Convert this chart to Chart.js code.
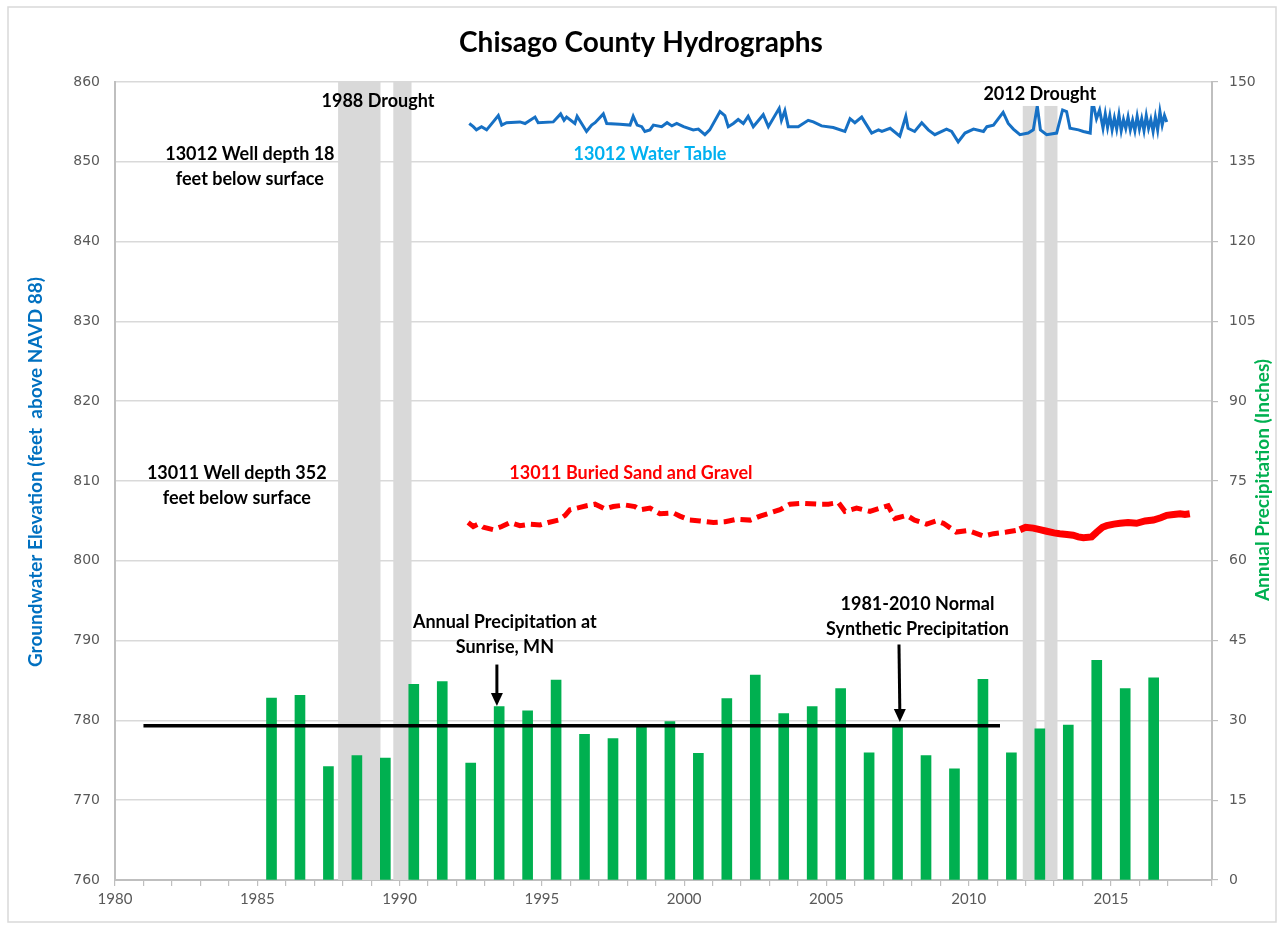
<!DOCTYPE html>
<html>
<head>
<meta charset="utf-8">
<title>Chisago County Hydrographs</title>
<script src="https://cdn.jsdelivr.net/npm/chart.js@4.4.0/dist/chart.umd.min.js"></script>
<style>
  html, body { margin: 0; padding: 0; background: #fff; }
  canvas { display: block; }
</style>
</head>
<body>
<canvas id="hydro" width="1284" height="929"></canvas>
<script>
// annual precipitation at Sunrise, MN (inches), one bar per year
const precipYears = [1985,1986,1987,1988,1989,1990,1991,1992,1993,1994,1995,1996,1997,1998,1999,2000,
  2001,2002,2003,2004,2005,2006,2007,2008,2009,2010,2011,2012,2013,2014,2015,2016];
const precipInches = [34.2,34.7,21.3,23.4,22.9,36.8,37.3,22.0,32.6,31.8,37.6,27.4,26.6,28.9,29.8,23.8,
  34.1,38.5,31.3,32.6,36.0,23.9,28.9,23.4,20.9,37.7,23.9,28.4,29.1,41.3,36.0,38.0];

// 1981-2010 normal synthetic precipitation
const normalYears = [1981.0, 2011.1];
const normalInches = [29.0, 29.0];

// 13012 water table well (feet above NAVD 88)
const wellYears13012 = [1992.45,1992.59,1992.70,1992.88,1993.06,1993.29,1993.47,1993.59,1993.76,1994.23,
  1994.41,1994.76,1994.87,1995.40,1995.66,1995.78,1995.87,1996.16,1996.24,1996.57,1996.75,1996.87,1997.16,
  1997.28,1997.74,1998.10,1998.21,1998.35,1998.51,1998.62,1998.80,1998.92,1999.21,1999.40,1999.57,1999.74,
  1999.98,2000.32,2000.50,2000.73,2000.90,2001.26,2001.43,2001.55,2001.73,2001.90,2002.08,2002.25,2002.43,
  2002.78,2002.96,2003.34,2003.42,2003.54,2003.66,2004.01,2004.36,2004.54,2004.83,2005.24,2005.65,2005.83,
  2006.00,2006.24,2006.59,2006.83,2006.95,2007.24,2007.58,2007.79,2007.87,2008.10,2008.35,2008.58,2008.81,
  2009.22,2009.40,2009.63,2009.87,2010.17,2010.52,2010.64,2010.87,2011.21,2011.39,2011.57,2011.80,2012.09,
  2012.27,2012.41,2012.52,2012.74,2013.09,2013.30,2013.44,2013.56,2013.86,2014.03,2014.27,2014.35,2014.49,
  2014.60,2014.72,2014.80,2014.88,2014.96,2015.04,2015.12,2015.20,2015.28,2015.36,2015.44,2015.52,2015.60,
  2015.68,2015.76,2015.84,2015.92,2016.00,2016.08,2016.16,2016.24,2016.32,2016.40,2016.48,2016.56,2016.64,
  2016.72,2016.80,2016.88,2016.96];
const wellLevels13012 = [854.8,854.4,854.0,854.4,854.0,855.0,855.8,854.6,854.9,855.0,
  854.8,855.6,854.9,855.0,856.0,855.2,855.6,854.8,855.7,853.8,854.6,854.9,856.0,
  854.8,854.7,854.6,855.7,854.6,854.4,853.8,854.0,854.6,854.4,854.9,854.5,854.8,
  854.4,854.0,854.1,853.4,854.0,856.3,855.8,854.4,854.8,855.3,854.8,855.7,854.4,
  855.9,854.4,856.7,855.2,856.4,854.4,854.4,855.2,855.0,854.5,854.3,853.8,855.4,
  854.9,855.6,853.6,854.0,853.8,854.2,853.2,855.7,854.2,853.8,854.9,854.0,853.4,
  854.1,853.8,852.5,853.6,854.1,853.8,854.4,854.6,856.2,854.8,854.1,853.4,853.6,
  854.0,857.0,854.0,853.4,853.6,856.5,856.3,854.2,854.0,853.8,853.6,857.7,855.4,
  856.5,854.2,856.0,854.3,855.8,854.0,855.5,854.1,855.9,853.9,855.3,854.2,855.6,
  854.0,855.2,853.9,855.7,854.1,855.4,853.9,855.8,854.2,855.3,853.8,855.6,854.0,
  856.3,854.6,855.8,855.0];

// 13011 buried sand and gravel well, periodic readings
const wellYears13011 = [1992.41,1992.59,1992.77,1992.94,1993.29,1993.59,1993.88,1994.23,1994.59,1994.94,
  1995.23,1995.58,1995.82,1995.99,1996.34,1996.57,1996.87,1997.22,1997.51,1997.92,1998.27,1998.45,1998.80,
  1999.15,1999.62,1999.85,2000.20,2000.56,2001.03,2001.44,2001.85,2002.32,2002.67,2003.02,2003.37,2003.72,
  2004.19,2004.66,2005.07,2005.42,2005.65,2006.06,2006.53,2007.17,2007.41,2007.82,2008.10,2008.52,2008.87,
  2009.11,2009.56,2009.97,2010.52,2010.87,2011.33,2011.80];
const wellLevels13011 = [804.8,804.3,804.6,804.2,803.9,804.3,804.8,804.4,804.6,804.5,
  804.8,805.1,805.7,806.4,806.7,806.9,807.1,806.5,806.8,807.0,806.8,806.4,806.6,
  805.9,806.0,805.6,805.1,805.0,804.8,804.9,805.2,805.1,805.6,806.0,806.4,807.1,
  807.2,807.1,807.1,807.3,806.2,806.6,806.2,806.9,805.3,805.7,805.1,804.6,805.0,
  804.7,803.6,803.8,803.1,803.4,803.6,803.9];

// 13011 logger record (dense)
const loggerYears13011 = [2011.80,2012.00,2012.27,2012.50,2012.74,2013.00,2013.20,2013.45,2013.67,2013.85,
  2014.03,2014.32,2014.50,2014.70,2014.85,2015.10,2015.32,2015.60,2015.90,2016.20,2016.49,2016.75,2016.96,
  2017.20,2017.43,2017.60,2017.77];
const loggerLevels13011 = [803.9,804.2,804.1,803.9,803.7,803.5,803.4,803.3,803.2,803.0,
  802.9,803.0,803.6,804.2,804.4,804.6,804.7,804.8,804.7,805.0,805.1,805.4,805.7,
  805.8,805.9,805.8,805.9];

// drought periods (start, end in decimal years)
const droughtStarts = [1987.84, 1989.78, 2011.90, 2012.66];
const droughtEnds = [1989.33, 1990.42, 2012.38, 2013.12];

const toPoints = (xs, ys) => xs.map((v, i) => ({ x: v, y: ys[i] }));

// text notes, anchored at (year, elevation)
const notes = [
  { lines: ['1988 Drought'], x: 1989.24, y: 857.6, color: '#000' },
  { lines: ['2012 Drought'], x: 2012.5, y: 858.5, color: '#000', box: true },
  { lines: ['13012 Well depth 18', 'feet below surface'], x: 1984.74, y: 851.0, color: '#000' },
  { lines: ['13012 Water Table'], x: 1998.8, y: 851.0, color: '#00B0F0' },
  { lines: ['13011 Well depth 352', 'feet below surface'], x: 1984.28, y: 811.0, color: '#000' },
  { lines: ['13011 Buried Sand and Gravel'], x: 1998.13, y: 811.0, color: '#FF0000' },
  { lines: ['Annual Precipitation at', 'Sunrise, MN'], x: 1993.7, y: 792.3, color: '#000' },
  { lines: ['1981-2010 Normal', 'Synthetic Precipitation'], x: 2008.2, y: 794.6, color: '#000' }
];
// arrows: [year top, elevation top, year tip, elevation tip]
const arrows = [
  [1993.42, 787.0, 1993.42, 781.8],
  [2007.55, 789.5, 2007.58, 779.8]
];

const noteFont = 'bold 18px Lato';

const decor = {
  id: 'decor',
  beforeDatasetsDraw(chart) {
    const { ctx, chartArea: a, scales: { x } } = chart;
    ctx.save();
    ctx.fillStyle = '#D9D9D9';
    droughtStarts.forEach((s, i) => {
      const x0 = x.getPixelForValue(s), x1 = x.getPixelForValue(droughtEnds[i]);
      ctx.fillRect(x0, a.top, x1 - x0, a.bottom - a.top);
    });
    ctx.restore();
  },
  afterDatasetsDraw(chart) {
    const { ctx, scales: { x, y } } = chart;
    ctx.save();
    ctx.font = noteFont;
    ctx.textAlign = 'center';
    ctx.textBaseline = 'middle';
    notes.forEach(n => {
      const px = x.getPixelForValue(n.x);
      const py = y.getPixelForValue(n.y);
      n.lines.forEach((t, i) => {
        const ly = py + i * 25;
        if (n.box) {
          const w = ctx.measureText(t).width;
          ctx.fillStyle = '#fff';
          ctx.fillRect(px - w / 2 - 3, ly - 12, w + 6, 24);
        }
        ctx.fillStyle = n.color;
        ctx.fillText(t, px, ly);
      });
    });
    ctx.strokeStyle = '#000';
    ctx.fillStyle = '#000';
    ctx.lineWidth = 3;
    arrows.forEach(([x0, y0, x1, y1]) => {
      const ax = x.getPixelForValue(x0), ay = y.getPixelForValue(y0);
      const bx = x.getPixelForValue(x1), by = y.getPixelForValue(y1);
      ctx.beginPath();
      ctx.moveTo(ax, ay);
      ctx.lineTo(bx, by - 10);
      ctx.stroke();
      ctx.beginPath();
      ctx.moveTo(bx, by);
      ctx.lineTo(bx - 6, by - 13);
      ctx.lineTo(bx + 6, by - 13);
      ctx.closePath();
      ctx.fill();
    });
    ctx.restore();
  },
  afterDraw(chart) {
    const { ctx, width, height } = chart;
    ctx.save();
    // chart frame
    ctx.strokeStyle = '#D9D9D9';
    ctx.lineWidth = 1.5;
    ctx.strokeRect(8, 7, width - 16, height - 14);
    // title
    ctx.fillStyle = '#000';
    ctx.font = 'bold 28px Lato';
    ctx.textAlign = 'center';
    ctx.textBaseline = 'middle';
    ctx.fillText('Chisago County Hydrographs', 641, 43);
    // axis titles
    ctx.font = 'bold 19px Lato';
    ctx.translate(36, 472);
    ctx.rotate(-Math.PI / 2);
    ctx.fillStyle = '#0070C0';
    ctx.fillText('Groundwater Elevation (feet  above NAVD 88)', 0, 0);
    ctx.setTransform(1, 0, 0, 1, 0, 0);
    ctx.translate(1263, 480);
    ctx.rotate(-Math.PI / 2);
    ctx.fillStyle = '#00B050';
    ctx.fillText('Annual Precipitation (Inches)', 0, 0);
    ctx.restore();
  }
};

new Chart(document.getElementById('hydro'), {
  type: 'line',
  data: {
    datasets: [
      {
        label: '1981-2010 Normal Synthetic Precipitation',
        data: toPoints(normalYears, normalInches),
        yAxisID: 'y2',
        borderColor: '#000',
        borderWidth: 3.5,
        pointRadius: 0
      },
      {
        label: '13012 Water Table',
        data: toPoints(wellYears13012, wellLevels13012),
        yAxisID: 'y',
        borderColor: '#1670C4',
        borderWidth: 3,
        pointRadius: 0,
        tension: 0
      },
      {
        label: '13011 Buried Sand and Gravel',
        data: toPoints(wellYears13011, wellLevels13011),
        yAxisID: 'y',
        borderColor: '#FF0000',
        borderWidth: 5,
        borderDash: [11, 6],
        pointRadius: 0,
        tension: 0
      },
      {
        label: '13011 logger',
        data: toPoints(loggerYears13011, loggerLevels13011),
        yAxisID: 'y',
        borderColor: '#FF0000',
        borderWidth: 7,
        pointRadius: 0,
        tension: 0
      },
      {
        type: 'bar',
        label: 'Annual Precipitation at Sunrise, MN',
        data: toPoints(precipYears.map(v => v + 0.5), precipInches),
        yAxisID: 'y2',
        backgroundColor: '#00B050',
        barThickness: 10
      }
    ]
  },
  options: {
    responsive: false,
    animation: false,
    events: [],
    layout: { padding: { top: 82, left: 0, right: 0, bottom: 0 } },
    plugins: {
      legend: { display: false },
      tooltip: { enabled: false },
      title: { display: false }
    },
    scales: {
      x: {
        type: 'linear',
        min: 1980,
        max: 2018.55,
        offset: false,
        afterFit: s => { s.height = 49; },
        ticks: {
          stepSize: 1,
          autoSkip: false,
          maxRotation: 0,
          padding: 4,
          color: '#595959',
          font: { family: 'Lato', size: 15 },
          callback: v => (v % 5 === 0 && v <= 2015) ? String(v) : ''
        },
        grid: {
          offset: false,
          drawOnChartArea: false,
          drawTicks: true,
          tickLength: 6,
          color: '#BFBFBF',
          lineWidth: 1.2
        },
        border: { color: '#BFBFBF', width: 2 }
      },
      y: {
        position: 'left',
        min: 760,
        max: 860,
        afterFit: s => { s.width = 115; },
        ticks: {
          stepSize: 10,
          padding: 15,
          color: '#595959',
          font: { family: 'DejaVu Sans', size: 14 }
        },
        grid: { color: '#D9D9D9', lineWidth: 1.5, drawTicks: false },
        border: { color: '#BFBFBF', width: 2 }
      },
      y2: {
        position: 'right',
        min: 0,
        max: 150,
        afterFit: s => { s.width = 72; },
        ticks: {
          stepSize: 15,
          padding: 11,
          color: '#595959',
          font: { family: 'DejaVu Sans', size: 14 }
        },
        grid: { drawOnChartArea: false, tickLength: 6, color: '#BFBFBF', lineWidth: 1.2 },
        border: { color: '#BFBFBF', width: 2 }
      }
    }
  },
  plugins: [decor]
});
</script>
</body>
</html>
